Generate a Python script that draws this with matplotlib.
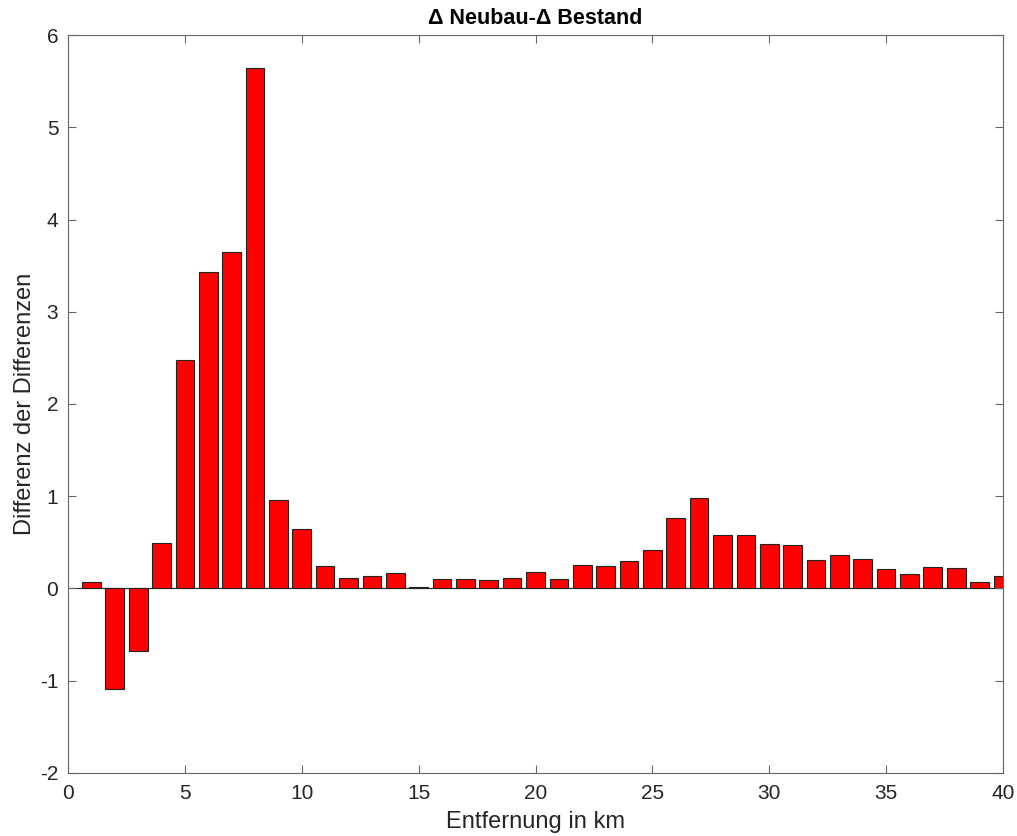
import matplotlib
matplotlib.use("Agg")
import matplotlib.pyplot as plt
import numpy as np

km = list(range(1, 41))
diff = [0.065, -1.095, -0.683, 0.495, 2.48, 3.43, 3.65, 5.64, 0.957, 0.647,
        0.246, 0.112, 0.134, 0.163, 0.02, 0.105, 0.108, 0.087, 0.112, 0.177,
        0.105, 0.257, 0.246, 0.30, 0.416, 0.762, 0.983, 0.582, 0.575, 0.484,
        0.466, 0.311, 0.365, 0.322, 0.213, 0.155, 0.235, 0.224, 0.065, 0.13]

plt.rcParams['font.family'] = ['Liberation Sans', 'DejaVu Sans']
plt.rcParams['axes.unicode_minus'] = False

fig = plt.figure(figsize=(10.17, 8.36), dpi=100)
ax = fig.add_axes([0.0669, 0.0754, 0.9193, 0.8827])
ax.bar(km, diff, width=0.8, color='#ff0000', edgecolor='#222222', linewidth=0.8)
ax.set_xlim(0, 40)
ax.set_ylim(-2, 6)
ax.set_xticks(range(0, 41, 5))
ax.set_yticks(range(-2, 7))
ax.axhline(0, color='#222222', linewidth=0.8, zorder=0)
gray = '#262626'
for s in ax.spines.values():
    s.set_color('#666666')
    s.set_linewidth(0.8)
ax.tick_params(direction='in', top=True, right=True, length=6, width=0.8,
               colors='#666666', labelcolor=gray, labelsize=15)
ax.tick_params(axis='x', pad=8)
ax.tick_params(axis='y', pad=7)
ax.set_xlabel('Entfernung in km', fontsize=17, color=gray, labelpad=6)
ax.set_ylabel('Differenz der Differenzen', fontsize=17, color=gray, labelpad=3)
ax.set_title('Δ Neubau-Δ Bestand', fontsize=15.5, fontweight='bold', color='black', pad=8)
fig.savefig('out.png', dpi=100)
